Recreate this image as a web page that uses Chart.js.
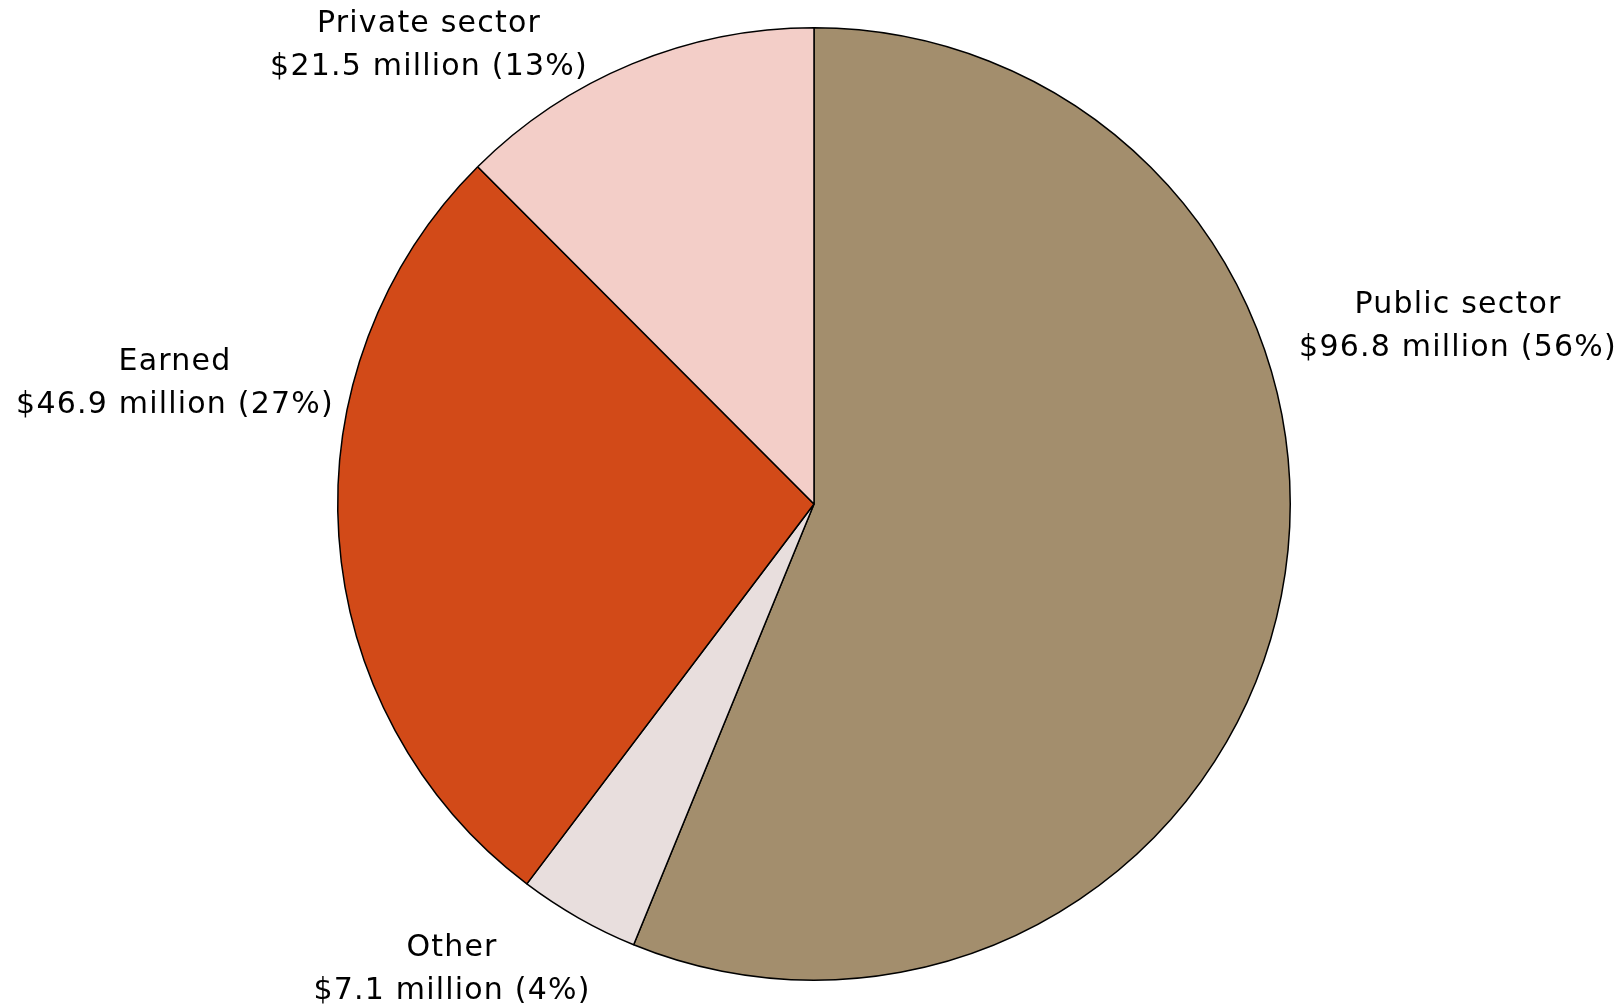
<!DOCTYPE html>
<html>
<head>
<meta charset="utf-8">
<title>Revenue sources</title>
<script src="https://cdn.jsdelivr.net/npm/chart.js@4.4.1/dist/chart.umd.min.js"></script>
<style>
  html, body { margin: 0; padding: 0; background: #fff; }
  #wrap { width: 1622px; height: 1008px; position: relative; }
</style>
</head>
<body>
<div id="wrap"><canvas id="revenueChart" width="1622" height="1008"></canvas></div>
<script>
// revenue by source, $ millions (clockwise from 12 o'clock)
const sources = ['Public sector', 'Other', 'Earned', 'Private sector'];
const amounts = [96.8, 7.1, 46.9, 21.5];
const shares = [56, 4, 27, 13];
const sliceColors = ['#a38e6d', '#e8dedd', '#d24a18', '#f3cec8'];

// where each two-line label sits: centre x and first baseline y
const labelSpots = [
  { x: 1458, y: 313 },
  { x: 452, y: 956 },
  { x: 175, y: 370 },
  { x: 429, y: 32 }
];

const pieLabels = {
  id: 'pieLabels',
  afterDraw(chart) {
    const ctx = chart.ctx;
    ctx.save();
    ctx.font = '30px "DejaVu Sans", sans-serif';
    ctx.letterSpacing = '1.2px';
    ctx.fillStyle = '#000';
    ctx.textAlign = 'center';
    ctx.textBaseline = 'alphabetic';
    chart.data.labels.forEach((name, i) => {
      const spot = labelSpots[i];
      const value = chart.data.datasets[0].data[i];
      ctx.fillText(name, spot.x, spot.y);
      ctx.fillText('$' + value.toFixed(1) + ' million (' + shares[i] + '%)', spot.x, spot.y + 43);
    });
    ctx.restore();
  }
};

new Chart(document.getElementById('revenueChart'), {
  type: 'pie',
  data: {
    labels: sources,
    datasets: [{
      data: amounts,
      backgroundColor: sliceColors,
      borderColor: '#000',
      borderWidth: 1.5
    }]
  },
  options: {
    responsive: false,
    animation: false,
    layout: { padding: { top: 27, bottom: 27, left: 6, right: 0 } },
    plugins: {
      legend: { display: false },
      tooltip: { enabled: false }
    }
  },
  plugins: [pieLabels]
});
</script>
</body>
</html>
